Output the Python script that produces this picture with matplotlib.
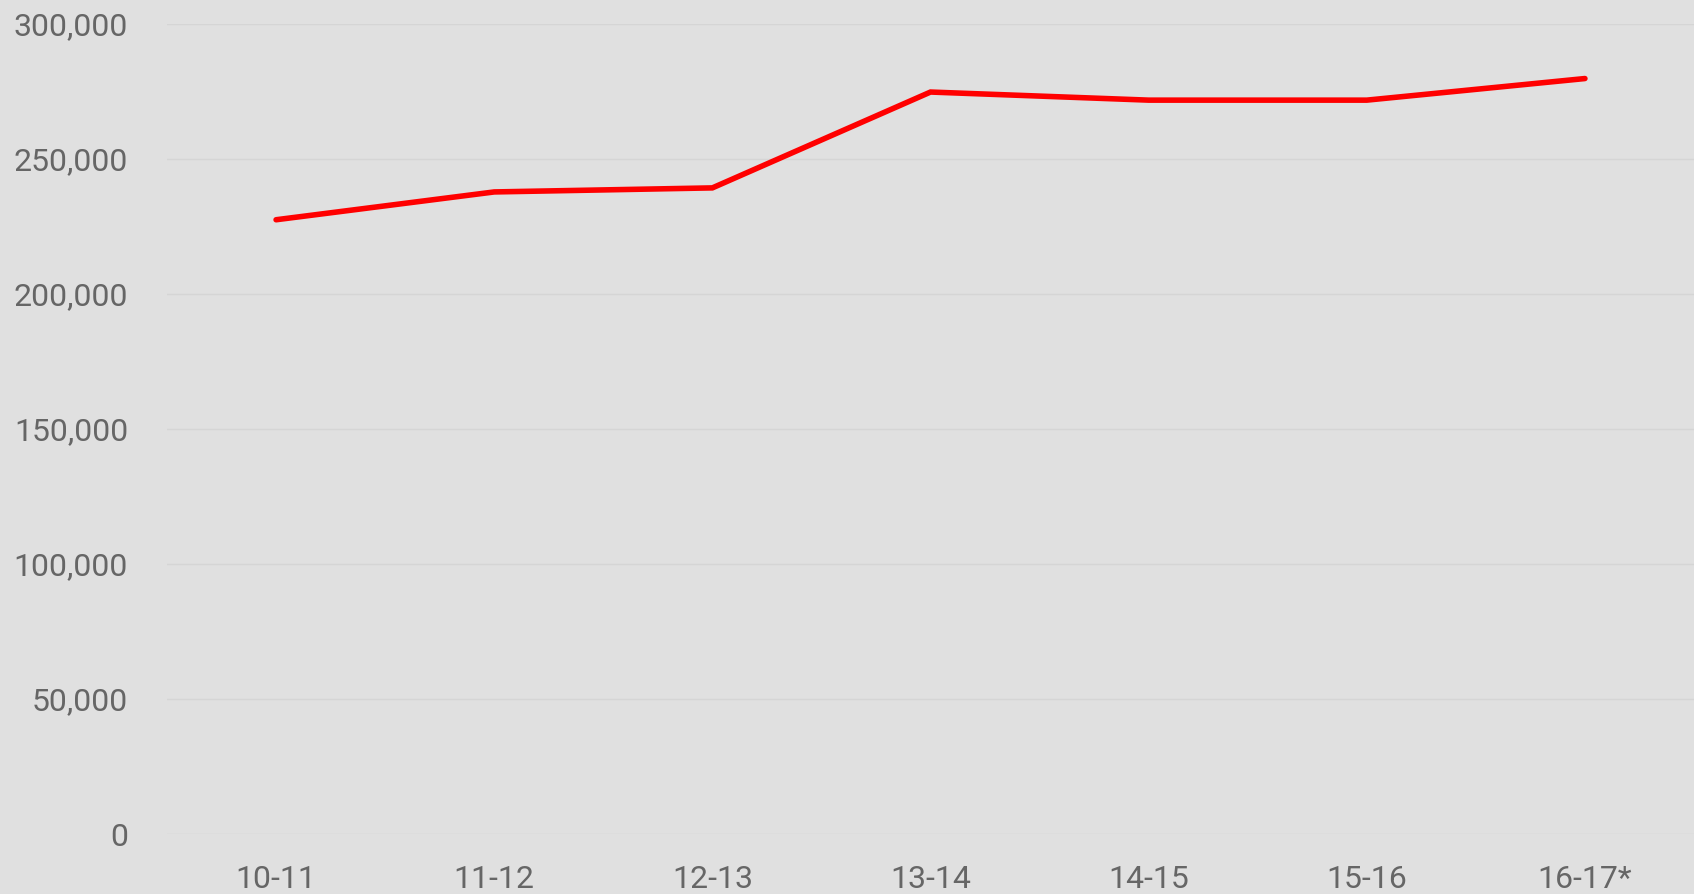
import matplotlib
matplotlib.use("Agg")
import matplotlib.pyplot as plt

seasons = ["10-11", "11-12", "12-13", "13-14", "14-15", "15-16", "16-17*"]
values = [227500, 237800, 239300, 274800, 271800, 271800, 279800]
y_ticks = [0, 50000, 100000, 150000, 200000, 250000, 300000]

plt.rcParams['font.family'] = ['Roboto', 'DejaVu Sans']

fig = plt.figure(figsize=(16.94, 8.94), dpi=100)
bg = "#e0e0e0"
fig.patch.set_facecolor(bg)
ax = fig.add_axes([167/1694, 60/894, 1 - 167/1694, 810/894])
ax.set_facecolor(bg)

x = list(range(len(seasons)))
ax.plot(x, values, color="#ff0000", linewidth=4.0, solid_capstyle="round",
        solid_joinstyle="miter", zorder=3, clip_on=False)

ax.set_xlim(-0.5, 6.5)
ax.set_ylim(0, 300000)
ax.set_yticks(y_ticks)
ax.set_yticklabels([f"{v:,}" for v in y_ticks])
ax.set_xticks(x)
ax.set_xticklabels(seasons)

for s in ax.spines.values():
    s.set_visible(False)
ax.grid(axis="y", color="#d5d5d5", linewidth=1.0)
ax.set_axisbelow(True)
ax.tick_params(axis="both", length=0, labelsize=23, labelcolor="#666666")
ax.tick_params(axis="y", pad=28)
ax.tick_params(axis="x", pad=22)

fig.savefig("out.png", dpi=100, facecolor=bg)
